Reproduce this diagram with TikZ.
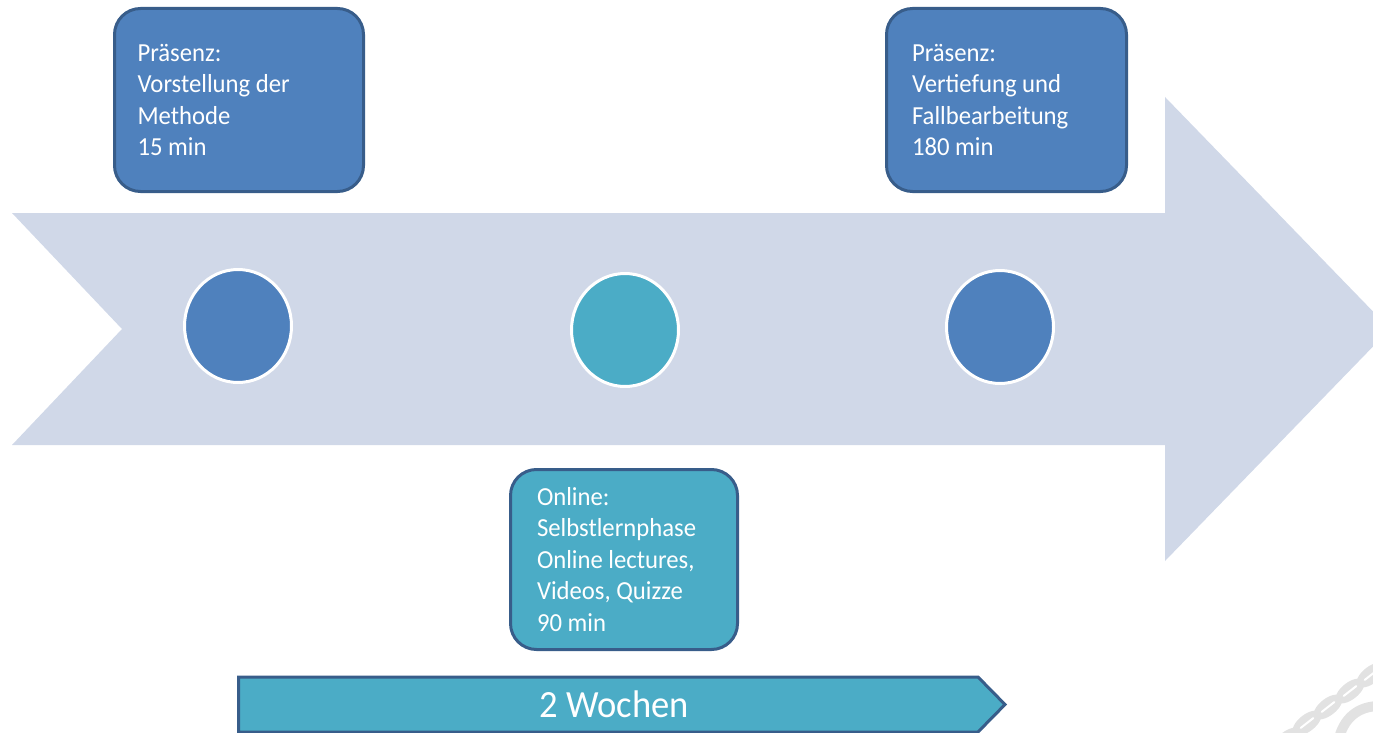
\documentclass[tikz,border=0pt]{standalone}
\usepackage{fontspec}
\setmainfont{Carlito}
\newfontfamily\boxfont[FakeStretch=0.95]{Carlito}
\usetikzlibrary{shapes.geometric}
\definecolor{arrowbg}{HTML}{D0D8E8}
\definecolor{accblue}{HTML}{4F81BD}
\definecolor{accteal}{HTML}{4BACC6}
\definecolor{darkborder}{HTML}{385D8A}
\definecolor{wmgray}{HTML}{E2E2E2}
\begin{document}
\begin{tikzpicture}[x=1pt,y=-1pt,
  phase/.style={rectangle, rounded corners=26pt, draw=darkborder, line width=3pt,
    text=white, font=\boxfont\fontsize{26}{31.5}\selectfont, align=flush left,
    inner ysep=0pt},
  milestone/.style={ellipse, minimum width=107pt, minimum height=113pt,
    draw=white, line width=3pt, inner sep=0pt},
  banner/.style={draw=darkborder, fill=accteal, line width=3pt, line join=miter},
  bannertext/.style={text=white, font=\boxfont\fontsize{38.5}{44}\selectfont, inner sep=0pt},
  link/.style={fill=wmgray},
  slit/.style={draw=white, line width=2pt, line cap=round}
]
\useasboundingbox (0,0) rectangle (1373,733);
\clip (0,0) rectangle (1373,733);

% big background arrow
\fill[arrowbg] (12,213) -- (1165,213) -- (1165,97) -- (1390,329) -- (1165,561)
  -- (1165,445) -- (12,445) -- (122,329) -- cycle;

% faint watermark in the corner
\foreach \cx/\cy in {1287/740, 1307/723, 1328/707, 1350/691, 1371/675} {
  \fill[link, rotate around={38:(\cx,\cy)}] (\cx,\cy) ellipse (17 and 8.5);
  \draw[slit, rotate around={38:(\cx,\cy)}] (\cx-8,\cy) -- (\cx+8,\cy);
}
\draw[wmgray, line width=10pt] (1338,742) .. controls (1343,718) and (1358,706) .. (1380,706);

% milestones
\node[milestone, fill=accblue] (c1) at (238,326) {};
\node[milestone, fill=accteal] (c2) at (625,330) {};
\node[milestone, fill=accblue] (c3) at (1000,327) {};

% phase boxes
\node[phase, fill=accblue, minimum width=249pt, minimum height=183pt,
  text width=203pt, inner xsep=23pt] (p1) at (239,100)
  {Präsenz:\\Vorstellung der\\Methode\\15 min};
\node[phase, fill=accblue, minimum width=240pt, minimum height=183pt,
  text width=189pt, inner xsep=25.5pt] (p3) at (1006.5,100)
  {Präsenz:\\Vertiefung und\\Fallbearbeitung\\180 min};
\node[phase, fill=accteal, minimum width=227pt, minimum height=180pt,
  text width=174pt, inner xsep=26.5pt] (p2) at (624,559.5)
  {Online:\\Selbstlernphase\\Online lectures,\\Videos, Quizze\\90 min};

% duration banner
\draw[banner] (238.5,677) -- (978,677) -- (1005,704.5) -- (978,732) -- (238.5,732) -- cycle;
\node[bannertext, anchor=base] (dur) at (614,717) {2 Wochen};
\end{tikzpicture}
\end{document}
